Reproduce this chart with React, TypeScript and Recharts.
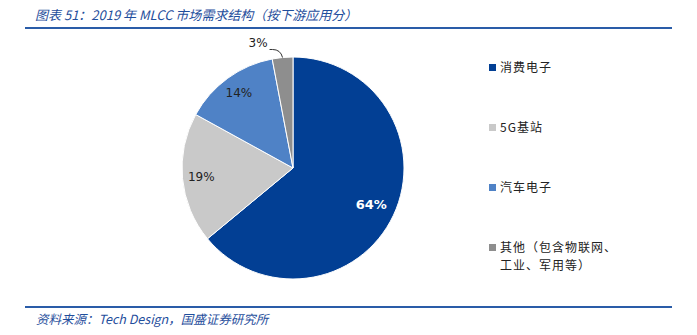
import { PieChart, Pie, Cell } from 'recharts';

const segments = ['消费电子', '5G基站', '汽车电子', '其他（包含物联网、工业、军用等）'];
const shares = [64, 19, 14, 3];
const legendLines = [['消费电子'], ['5G基站'], ['汽车电子'], ['其他（包含物联网、', '工业、军用等）']];
const colors = ['#023F94', '#C9C9C9', '#4F82C6', '#8E8E8E'];

const data = segments.map((name, i) => ({ name, value: shares[i] }));

const RAD = Math.PI / 180;
const font = "Tahoma, 'DejaVu Sans', sans-serif";
const cjk = "'Noto Sans CJK SC', sans-serif";

function renderLabel(props: any) {
  const { cx, cy, midAngle, outerRadius, index, value } = props;
  const cos = Math.cos(-midAngle * RAD);
  const sin = Math.sin(-midAngle * RAD);
  if (index === 3) {
    const sx = cx + outerRadius * cos;
    const sy = cy + outerRadius * sin;
    return (
      <g>
        <path
          d={`M${sx},${sy} Q${sx - 2},${sy - 8} ${sx - 10},${sy - 8} L${sx - 13},${sy - 8}`}
          stroke="#333"
          strokeWidth={1}
          fill="none"
        />
        <text x={sx - 15} y={sy - 10} textAnchor="end" fontSize={12} fontFamily={font} fill="#222">
          {value}%
        </text>
      </g>
    );
  }
  const r = outerRadius * (index === 0 ? 0.78 : 0.83);
  const x = cx + r * cos;
  const y = cy + r * sin;
  return (
    <text
      x={x}
      y={y}
      textAnchor="middle"
      dominantBaseline="central"
      fontSize={index === 0 ? 13 : 12}
      fontWeight={index === 0 ? 'bold' : 'normal'}
      fontFamily={font}
      fill={index === 0 ? '#fff' : '#222'}
    >
      {value}%
    </text>
  );
}

function LegendList() {
  return (
    <div style={{ position: 'absolute', left: 489, top: 58, fontFamily: cjk, fontSize: 12, color: '#222', letterSpacing: 1 }}>
      {legendLines.map((lines, i) => (
        <div key={i} style={{ position: 'absolute', top: i * 60, left: 0, width: 180 }}>
          {lines.map((t, j) => (
            <div key={j} style={{ height: 18, lineHeight: '18px', paddingLeft: j === 0 ? 0 : 11, whiteSpace: 'nowrap' }}>
              {j === 0 && (
                <span
                  style={{
                    display: 'inline-block',
                    width: 7,
                    height: 7,
                    background: colors[i],
                    marginRight: 4,
                    verticalAlign: 'middle',
                    position: 'relative',
                    top: -1,
                  }}
                />
              )}
              {t}
            </div>
          ))}
        </div>
      ))}
    </div>
  );
}

export default function App() {
  return (
    <div style={{ position: 'relative', width: 697, height: 335, background: '#fff', overflow: 'hidden' }}>
      <style>{'body{margin:0}'}</style>
      <div
        style={{
          position: 'absolute',
          left: 35,
          top: 5,
          fontFamily: cjk,
          fontStyle: 'italic',
          fontSize: 13,
          color: '#1F4E9C',
          whiteSpace: 'nowrap',
        }}
      >
        图表 51：2019 年 MLCC 市场需求结构（按下游应用分）
      </div>
      <div style={{ position: 'absolute', left: 25, top: 27, width: 647, height: 2, background: '#2A5CA8' }} />
      <PieChart
        width={697}
        height={335}
        margin={{ top: 0, right: 0, bottom: 0, left: 0 }}
        style={{ position: 'absolute', left: 0, top: 0 }}
      >
        <Pie
          data={data}
          dataKey="value"
          nameKey="name"
          cx={293}
          cy={168}
          outerRadius={111}
          startAngle={90}
          endAngle={-270}
          stroke="#fff"
          strokeWidth={1}
          label={renderLabel}
          labelLine={false}
          isAnimationActive={false}
        >
          {data.map((d, i) => (
            <Cell key={d.name} fill={colors[i]} />
          ))}
        </Pie>
      </PieChart>
      <LegendList />
      <div style={{ position: 'absolute', left: 25, top: 306, width: 647, height: 2, background: '#2A5CA8' }} />
      <div
        style={{
          position: 'absolute',
          left: 36,
          top: 309,
          fontFamily: cjk,
          fontStyle: 'italic',
          fontSize: 12.5,
          color: '#1F4E9C',
          whiteSpace: 'nowrap',
        }}
      >
        资料来源：Tech Design，国盛证券研究所
      </div>
    </div>
  );
}
